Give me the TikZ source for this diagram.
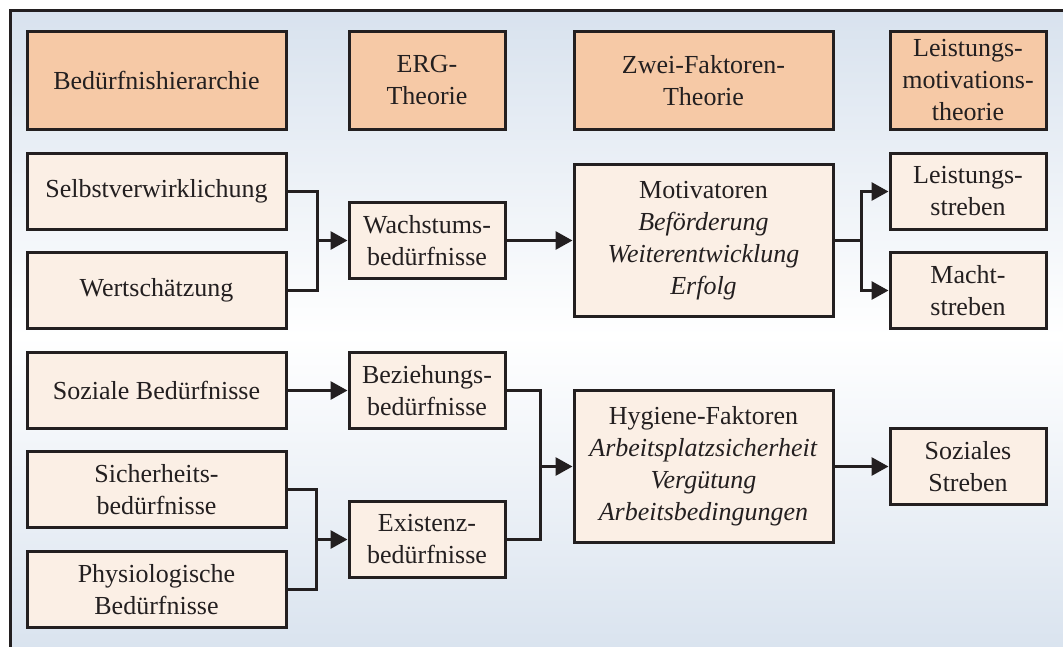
\documentclass[tikz,border=0pt]{standalone}
\usepackage{fontspec}
\setmainfont{Liberation Serif}
\usetikzlibrary{arrows.meta}
\definecolor{ink}{HTML}{231F20}
\definecolor{hdr}{HTML}{F6C9A6}
\definecolor{lite}{HTML}{FBEFE5}
\definecolor{bgblue}{HTML}{D8E2EE}
\begin{document}
\begin{tikzpicture}[x=1pt,y=-1pt,
  box/.style={draw=ink, line width=3pt, fill=lite, text=ink, align=center, inner sep=0pt,
    font=\fontsize{26}{32}\selectfont, minimum height=76pt},
  head/.style={box, fill=hdr, minimum height=98pt},
  wide/.style={minimum width=259pt},
  narrow/.style={minimum width=156pt},
  conn/.style={draw=ink, line width=3pt},
  arr/.style={conn, -{Triangle[length=17pt,width=18pt]}}]
\clip (0,0) rectangle (1063,646);
\shade[top color=bgblue, bottom color=bgblue, middle color=white] (10,10) rectangle (1080,662);
\draw[ink, line width=3pt] (10,10) rectangle (1080,662);
% headers
\node[head, wide]   (h1) at (156.5,80.5) {Bedürfnishierarchie};
\node[head, narrow] (h2) at (427,80.5) {ERG-\\Theorie};
\node[head, wide]   (h3) at (703.5,80.5) {Zwei-Faktoren-\\Theorie};
\node[head, narrow] (h4) at (968,80.5) {Leistungs-\\motivations-\\theorie};
% column 1
\node[box, wide] (selbst) at (156.5,191.5) {Selbstverwirklichung};
\node[box, wide] (wert)   at (156.5,290.5) {Wertschätzung};
\node[box, wide] (sozial) at (156.5,390.5) {Soziale Bedürfnisse};
\node[box, wide] (sich)   at (156.5,489.5) {Sicherheits-\\bedürfnisse};
\node[box, wide] (phys)   at (156.5,589.5) {Physiologische\\Bedürfnisse};
% column 2
\node[box, narrow] (wachs) at (427,240.5) {Wachstums-\\bedürfnisse};
\node[box, narrow] (bez)   at (427,390.5) {Beziehungs-\\bedürfnisse};
\node[box, narrow] (exist) at (427,539.5) {Existenz-\\bedürfnisse};
% column 3
\node[box, wide, minimum height=152pt] (motiv) at (703.5,240.5)
  {Motivatoren\\\textit{Beförderung}\\\textit{Weiterentwicklung}\\\textit{Erfolg}};
\node[box, wide, minimum height=152pt] (hyg) at (703.5,466.5)
  {Hygiene-Faktoren\\\textit{Arbeitsplatzsicherheit}\\\textit{Vergütung}\\\textit{Arbeitsbedingungen}};
% column 4
\node[box, narrow] (leist) at (968,191.5) {Leistungs-\\streben};
\node[box, narrow] (macht) at (968,290.5) {Macht-\\streben};
\node[box, narrow] (sozs)  at (968,466.5) {Soziales\\Streben};
% junctions
\coordinate (j1) at (317,240.5);
\coordinate (j2) at (316,539.5);
\coordinate (j3) at (861,240.5);
\coordinate (j4) at (540,466.5);
% connectors
\draw[conn] (selbst.east) -| (j1) |- (wert.east);
\draw[arr] (j1) -- (wachs.west);
\draw[arr] (wachs.east) -- (motiv.west);
\draw[conn] (motiv.east) -- (j3);
\draw[arr] (j3) |- (leist.west);
\draw[arr] (j3) |- (macht.west);
\draw[arr] (sozial.east) -- (bez.west);
\draw[conn] (sich.east) -| (j2) |- (phys.east);
\draw[arr] (j2) -- (exist.west);
\draw[conn] (bez.east) -| (j4) |- (exist.east);
\draw[arr] (j4) -- (hyg.west);
\draw[arr] (hyg.east) -- (sozs.west);
\end{tikzpicture}
\end{document}
